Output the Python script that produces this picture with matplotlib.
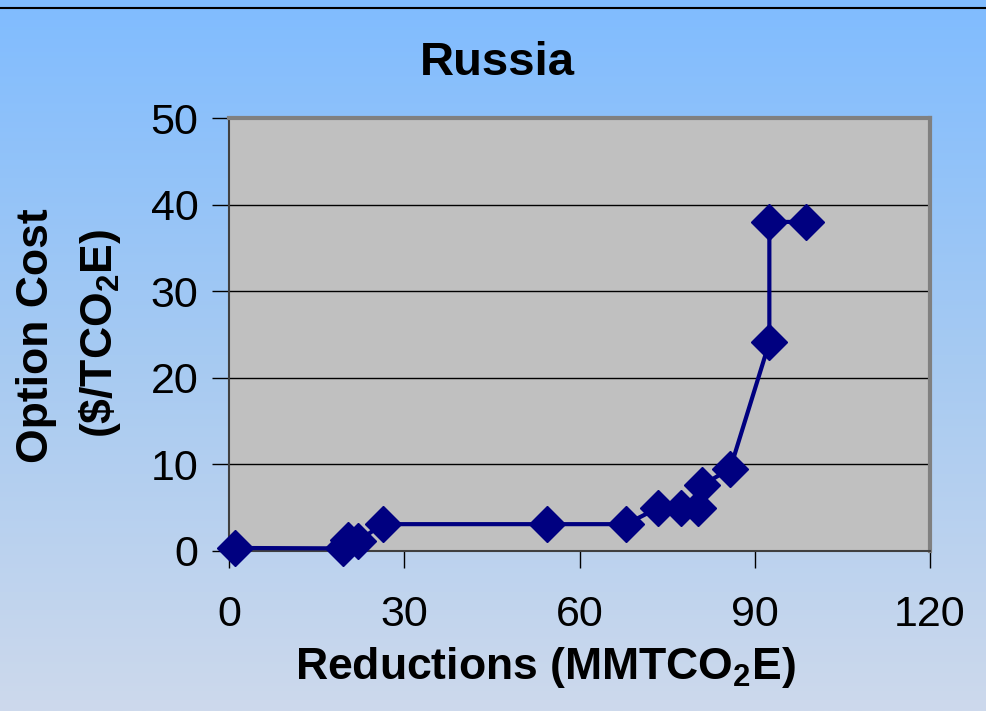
import matplotlib
matplotlib.use("Agg")
import matplotlib.pyplot as plt
from matplotlib.colors import LinearSegmentedColormap
from matplotlib.lines import Line2D
import numpy as np

plt.rcParams['font.family'] = ['Liberation Sans', 'DejaVu Sans']
plt.rcParams['mathtext.fontset'] = 'custom'
plt.rcParams['mathtext.rm'] = 'Liberation Sans'
plt.rcParams['mathtext.bf'] = 'Liberation Sans:bold'

# data
reductions = [1.0, 19.6, 20.3, 22.1, 26.3, 54.4, 68.0, 73.5, 77.4, 80.3, 81.0, 85.8, 92.5, 92.5, 98.7]
option_cost = [0.35, 0.3, 1.3, 1.15, 3.1, 3.1, 3.1, 5.0, 5.0, 5.0, 7.6, 9.5, 24.1, 38.0, 38.0]
x_ticks = [0, 30, 60, 90, 120]
y_ticks = [0, 10, 20, 30, 40, 50]

fig = plt.figure(figsize=(9.86, 7.11), dpi=100)

# gradient background
bg = fig.add_axes([0, 0, 1, 1], zorder=-10)
cmap = LinearSegmentedColormap.from_list('bg', ['#80bcff', '#a6caf2', '#cdd9ec'])
grad = np.linspace(0, 1, 256).reshape(-1, 1)
bg.imshow(grad, aspect='auto', cmap=cmap, extent=[0, 1, 0, 1], origin='upper')
bg.axis('off')
fig.add_artist(Line2D([0, 1], [1 - 8 / 711, 1 - 8 / 711], color='black', lw=1.5,
                      transform=fig.transFigure))

ax = fig.add_axes([229 / 986, 160 / 711, 701 / 986, 433 / 711])
ax.set_facecolor('#c0c0c0')
ax.plot(reductions, option_cost, color='#000080', lw=3, marker='D', markersize=18,
        markeredgecolor='#000080', clip_on=False, zorder=3)

ax.set_xlim(0, 120)
ax.set_ylim(0, 50)
ax.set_xticks(x_ticks)
ax.set_yticks(y_ticks)
ax.tick_params(axis='both', direction='out', length=12, width=1, labelsize=31, pad=10)
ax.tick_params(axis='x', pad=20)
ax.grid(axis='y', color='black', lw=1)
ax.set_axisbelow(True)

for side in ['top', 'right']:
    ax.spines[side].set_color('#808080')
    ax.spines[side].set_linewidth(3)
ax.spines['left'].set_color('#404040')
ax.spines['bottom'].set_color('#404040')
ax.spines['left'].set_linewidth(1.5)
ax.spines['bottom'].set_linewidth(1.5)

fig.text(497 / 986, 1 - 63 / 711, 'Russia', ha='center', va='center',
         fontsize=34, fontweight='bold')
fig.text(545 / 986, 1 - 668 / 711, 'Reductions (MMTCO$_\\mathbf{2}$E)', ha='center',
         va='center', fontsize=32, fontweight='bold')
fig.text(37 / 986, 1 - 336 / 711, 'Option Cost', ha='center', va='center',
         rotation=90, fontsize=32, fontweight='bold')
fig.text(100 / 986, 1 - 333 / 711, '(\\$/TCO$_\\mathbf{2}$E)', ha='center', va='center',
         rotation=90, fontsize=32, fontweight='bold')

fig.savefig('out.png', dpi=100)
